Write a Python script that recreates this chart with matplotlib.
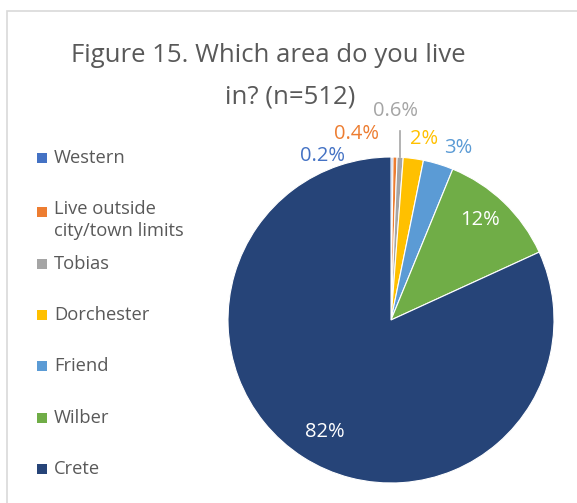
import matplotlib
matplotlib.use("Agg")
import matplotlib.pyplot as plt
from matplotlib.patches import Rectangle
import numpy as np

categories = ["Western", "Live outside\ncity/town limits", "Tobias", "Dorchester", "Friend", "Wilber", "Crete"]
values = [0.2, 0.4, 0.6, 2, 3, 12, 82]
labels = ["0.2%", "0.4%", "0.6%", "2%", "3%", "12%", "82%"]
colors = ["#4472C4", "#ED7D31", "#A5A5A5", "#FFC000", "#5B9BD5", "#70AD47", "#264478"]
label_colors = ["#4472C4", "#ED7D31", "#A5A5A5", "#FFC000", "#5B9BD5", "white", "white"]
# label placement (radial distance as fraction of radius, angular shift in degrees)
label_dist = [1.09, 1.16, 1.28, 1.13, 1.13, 0.82, 0.80]
label_shift = [23, 12, 2.0, -2.5, -4.5, 2, 2.2]

plt.rcParams['font.family'] = ['Open Sans', 'DejaVu Sans']
text_color = "#595959"

W, H = 577, 503
fig = plt.figure(figsize=(W / 100, H / 100), dpi=100)

# chart border
fig.patches.append(Rectangle((7 / W, -0.1), 1.2, 1.1 - 11 / H, transform=fig.transFigure,
                             fill=False, edgecolor="#D9D9D9", linewidth=1.2))

cx, cy, r = 391, 320, 163
ax = fig.add_axes([(cx - r) / W, (H - cy - r) / H, 2 * r / W, 2 * r / H])
wedges, _ = ax.pie(values, colors=colors, startangle=90, counterclock=False,
                   wedgeprops=dict(edgecolor="white", linewidth=0.8))
ax.set_xlim(-1, 1)
ax.set_ylim(-1, 1)
ax.set_aspect("equal")
ax.axis("off")

for w, lab, d, s, c in zip(wedges, labels, label_dist, label_shift, label_colors):
    mid = np.deg2rad((w.theta1 + w.theta2) / 2 + s)
    ax.text(d * np.cos(mid), d * np.sin(mid), lab, ha="center", va="center",
            fontsize=14.5, color=c, clip_on=False)

# leader line for Tobias
wt = wedges[2]
m = np.deg2rad((wt.theta1 + wt.theta2) / 2)
ax.plot([np.cos(m), np.cos(m)], [np.sin(m), 1.16], color="#A5A5A5", lw=1.2, clip_on=False)

# title
fig.text(268 / W, 1 - 55 / H, "Figure 15. Which area do you live", ha="center",
         va="center", fontsize=18.5, color=text_color)
fig.text(290 / W, 1 - 97 / H, "in? (n=512)", ha="center",
         va="center", fontsize=18.5, color=text_color)

# legend
leg_y = [158, 212, 264, 315, 366, 418, 469]
for cat, col, y in zip(categories, colors, leg_y):
    fig.patches.append(Rectangle((37 / W, 1 - (y + 5) / H), 10 / W, 10 / H,
                                 transform=fig.transFigure, facecolor=col, edgecolor="none"))
    if "\n" in cat:
        fig.text(54 / W, 1 - (y - 12) / H, cat, ha="left", va="top",
                 fontsize=13.2, color=text_color, linespacing=1.3)
    else:
        fig.text(54 / W, 1 - y / H, cat, ha="left", va="center",
                 fontsize=13.2, color=text_color)

fig.savefig("out.png", dpi=100)
